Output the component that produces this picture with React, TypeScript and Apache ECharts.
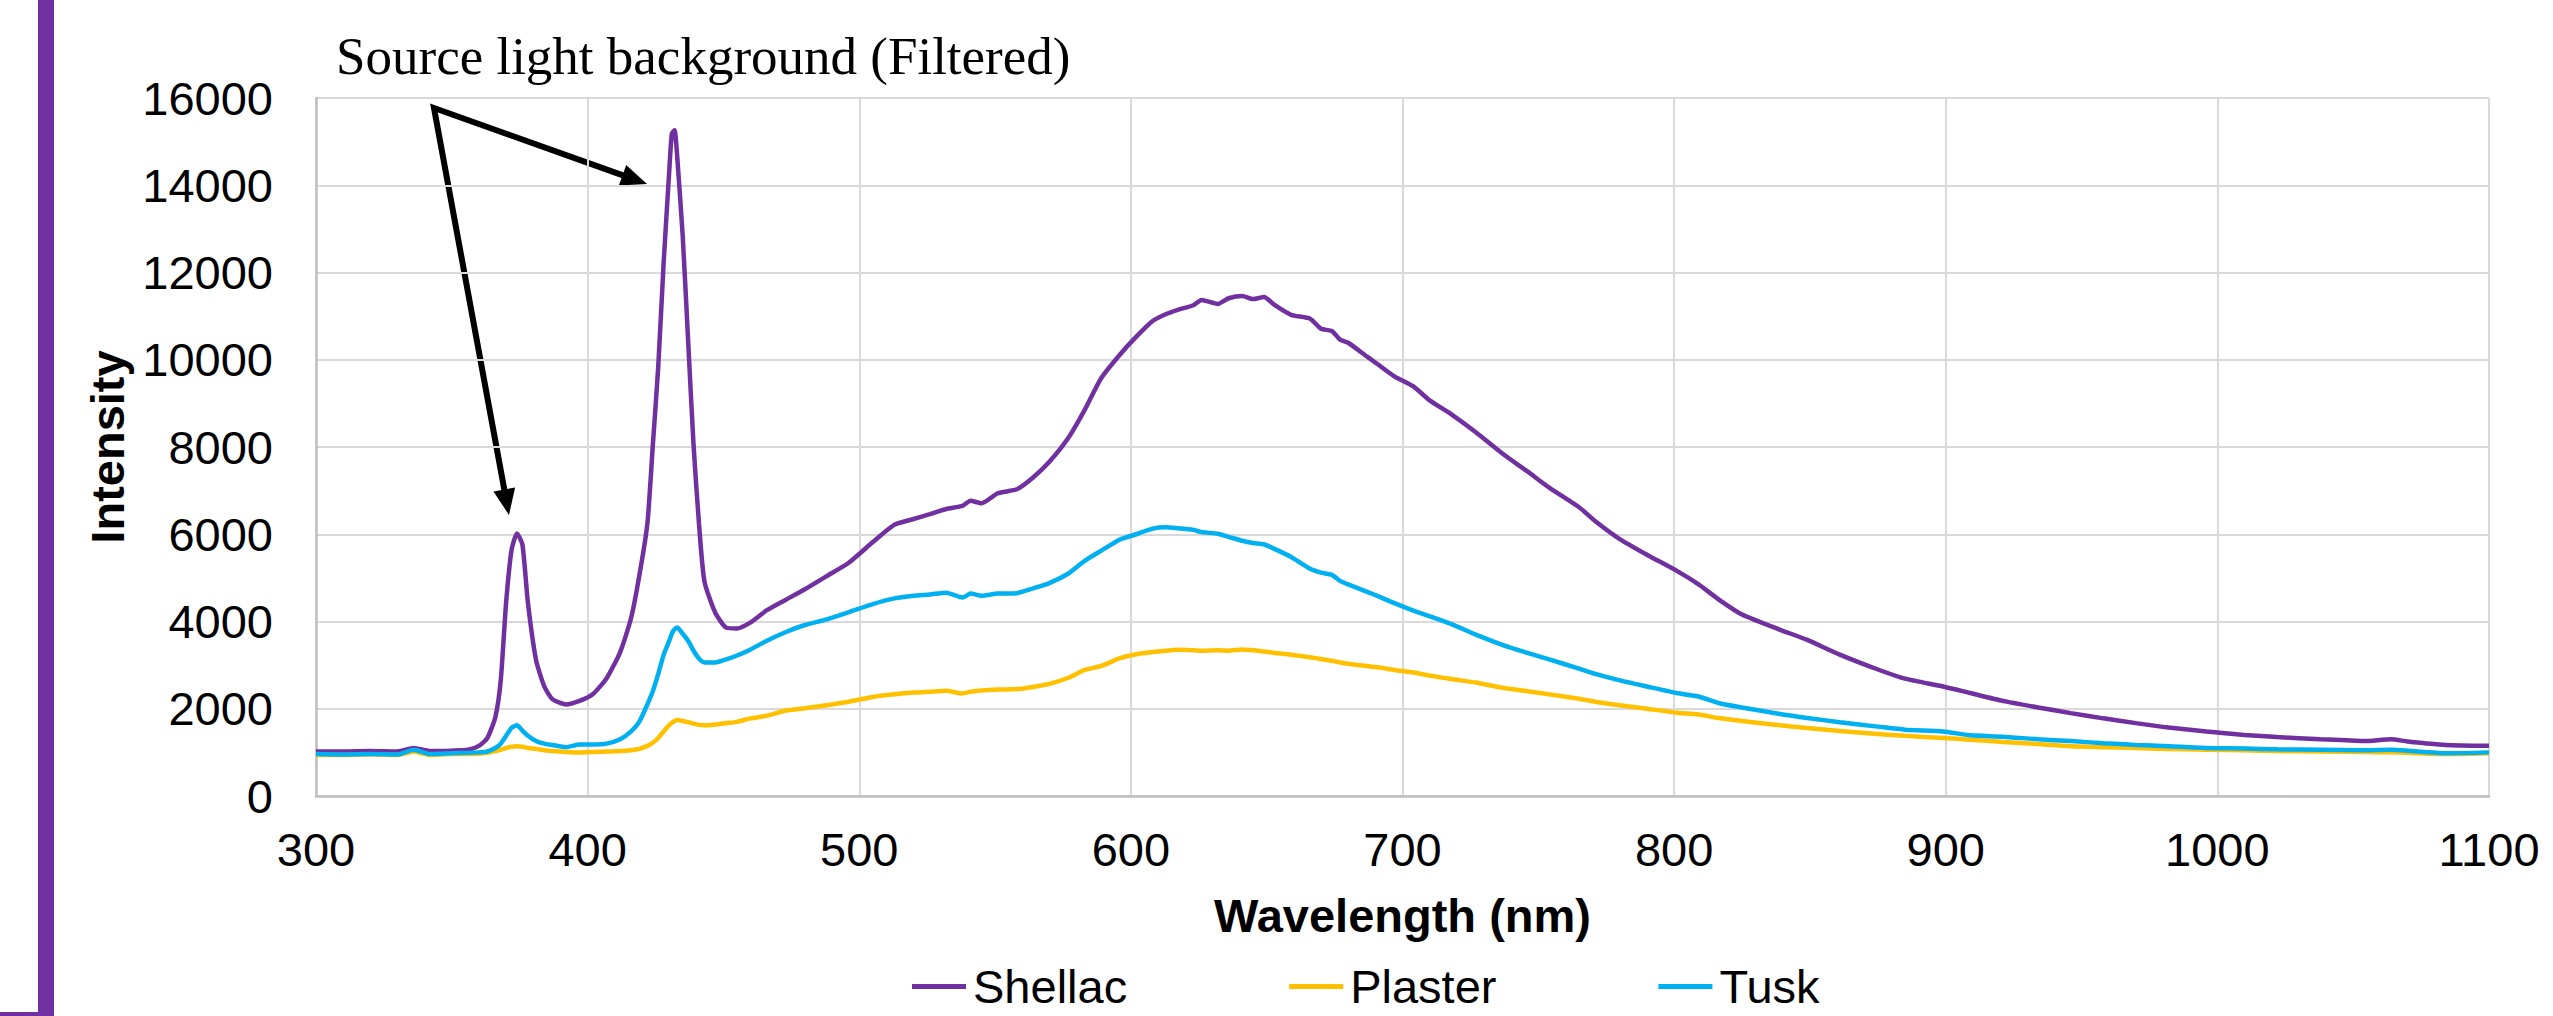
import React, { useEffect, useRef } from 'react';
import * as echarts from 'echarts';

const wavelengths = [
  300, 310, 320, 330, 336, 342, 350, 356, 360, 363,
  366, 368, 370, 372, 374, 376, 378, 381, 384, 387,
  392, 397, 402, 407, 412, 416, 419, 422, 424, 426,
  428, 430, 431, 432, 433, 435, 437, 439, 441, 443,
  447, 451, 455, 460, 466, 473, 480, 488, 496, 505,
  513, 520, 526, 532, 538, 541, 545, 551, 558, 564,
  570, 577, 583, 589, 596, 602, 608, 613, 617, 623,
  626, 632, 636, 641, 645, 649, 653, 659, 666, 670,
  674, 677, 680, 687, 691, 697, 704, 710, 718, 727,
  737, 746, 754, 765, 771, 780, 790, 801, 809, 817,
  825, 839, 849, 861, 875, 885, 899, 909, 921, 934,
  946, 958, 970, 982, 996, 1010, 1022, 1038, 1054, 1064,
  1070, 1084, 1100,
];

const shellac = [
  1020, 1020, 1030, 1020, 1100, 1030, 1040, 1060, 1150, 1320,
  1800, 2640, 4440, 5640, 6020, 5760, 4440, 3120, 2520, 2220,
  2100, 2180, 2340, 2700, 3300, 4080, 5040, 6240, 8040, 9840,
  12240, 14280, 15180, 15260, 14640, 12840, 10440, 8040, 6240, 4920,
  4200, 3860, 3840, 3980, 4260, 4500, 4740, 5040, 5340, 5820,
  6220, 6350, 6460, 6580, 6650, 6770, 6710, 6940, 7030, 7300,
  7660, 8210, 8850, 9570, 10120, 10530, 10890, 11050, 11140, 11250,
  11370, 11280, 11410, 11460, 11390, 11440, 11250, 11030, 10940, 10710,
  10660, 10460, 10390, 10070, 9890, 9620, 9390, 9070, 8750, 8340,
  7840, 7440, 7070, 6620, 6300, 5890, 5530, 5160, 4850, 4480,
  4160, 3810, 3580, 3240, 2900, 2690, 2510, 2360, 2180, 2030,
  1900, 1780, 1670, 1570, 1480, 1400, 1350, 1300, 1260, 1300,
  1250, 1170, 1150,
];

const plaster = [
  940, 940, 950, 940, 1020, 940, 960, 960, 970, 990,
  1030, 1060, 1100, 1130, 1140, 1130, 1100, 1080, 1050, 1030,
  1010, 1000, 1010, 1020, 1030, 1050, 1080, 1150, 1220, 1330,
  1480, 1620, 1680, 1720, 1740, 1720, 1690, 1660, 1630, 1620,
  1640, 1670, 1700, 1780, 1840, 1960, 2010, 2080, 2160, 2270,
  2330, 2370, 2390, 2410, 2350, 2390, 2420, 2440, 2450, 2500,
  2570, 2710, 2890, 2980, 3160, 3250, 3300, 3330, 3350, 3340,
  3330, 3340, 3330, 3360, 3340, 3310, 3280, 3240, 3180, 3140,
  3100, 3060, 3030, 2980, 2950, 2890, 2830, 2760, 2680, 2600,
  2480, 2400, 2330, 2230, 2160, 2080, 2000, 1910, 1870, 1780,
  1720, 1620, 1560, 1490, 1420, 1380, 1330, 1290, 1240, 1190,
  1140, 1120, 1100, 1080, 1060, 1050, 1030, 1020, 1010, 1000,
  990, 960, 980,
];

const tusk = [
  960, 950, 960, 950, 1060, 960, 980, 990, 1000, 1020,
  1100, 1200, 1380, 1560, 1620, 1500, 1380, 1260, 1200, 1170,
  1120, 1180, 1180, 1200, 1300, 1480, 1700, 2100, 2400, 2800,
  3240, 3550, 3720, 3820, 3860, 3720, 3560, 3330, 3150, 3060,
  3060, 3130, 3220, 3360, 3560, 3760, 3920, 4050, 4210, 4400,
  4530, 4590, 4620, 4660, 4550, 4640, 4590, 4640, 4650, 4760,
  4880, 5100, 5390, 5620, 5880, 6000, 6130, 6160, 6140, 6100,
  6050, 6010, 5940, 5850, 5800, 5770, 5660, 5480, 5210, 5120,
  5070, 4930, 4850, 4680, 4580, 4420, 4250, 4120, 3940, 3700,
  3460, 3280, 3130, 2920, 2800, 2650, 2510, 2360, 2280, 2120,
  2030, 1880, 1790, 1690, 1590, 1520, 1480, 1390, 1360, 1300,
  1260, 1210, 1170, 1140, 1100, 1090, 1070, 1060, 1050, 1060,
  1040, 980, 1000,
];

const seriesNames = ['Shellac', 'Plaster', 'Tusk'];
const seriesColors = ['#7030A0', '#FFC000', '#00B0F0'];
const seriesValues = [shellac, plaster, tusk];
const annotationText = 'Source light background (Filtered)';

const W = 2553;
const H = 1016;

function arrowPair(sx: number, sy: number, tips: number[][]) {
  const hl = 26;
  const hw = 11;
  const bases: number[][] = [];
  const heads: any[] = [];
  tips.forEach(([tx, ty]) => {
    const dx = tx - sx;
    const dy = ty - sy;
    const L = Math.hypot(dx, dy);
    const ux = dx / L;
    const uy = dy / L;
    const bx = tx - ux * hl;
    const by = ty - uy * hl;
    bases.push([bx + ux * 2, by + uy * 2]);
    heads.push({
      type: 'polygon',
      shape: { points: [[tx, ty], [bx - uy * hw, by + ux * hw], [bx + uy * hw, by - ux * hw]] },
      style: { fill: '#000' },
    });
  });
  return [
    {
      type: 'polyline',
      shape: { points: [bases[0], [sx, sy], bases[1]] },
      style: { stroke: '#000', lineWidth: 6, lineJoin: 'miter', fill: null },
    },
    ...heads,
  ];
}

export default function App() {
  const ref = useRef<HTMLDivElement>(null);
  useEffect(() => {
    document.body.style.margin = '0';
    if (!ref.current) return;
    const chart = echarts.init(ref.current, undefined, { renderer: 'svg' });
    const font = '"Liberation Sans", Arial, sans-serif';
    const plain = (v: number) => String(v);
    const option: any = {
      animation: false,
      backgroundColor: '#fff',
      grid: { left: 316, right: W - 2489, top: 98, bottom: H - 796, containLabel: false },
      xAxis: {
        type: 'value',
        min: 300,
        max: 1100,
        interval: 100,
        name: 'Wavelength (nm)',
        nameLocation: 'middle',
        nameGap: 96,
        nameTextStyle: { fontFamily: font, fontSize: 47, fontWeight: 'bold', color: '#000' },
        axisLine: { show: true, lineStyle: { color: '#BFBFBF', width: 2.5 } },
        axisTick: { show: false },
        splitLine: { show: true, lineStyle: { color: '#D9D9D9', width: 2 } },
        axisLabel: { fontFamily: font, fontSize: 47, color: '#000', margin: 30, formatter: plain },
      },
      yAxis: {
        type: 'value',
        min: 0,
        max: 16000,
        interval: 2000,
        name: 'Intensity',
        nameLocation: 'middle',
        nameRotate: 90,
        nameGap: 178,
        nameTextStyle: { fontFamily: font, fontSize: 47, fontWeight: 'bold', color: '#000' },
        axisLine: { show: true, lineStyle: { color: '#BFBFBF', width: 2.5 } },
        axisTick: { show: false },
        splitLine: { show: true, lineStyle: { color: '#D9D9D9', width: 2 } },
        axisLabel: { fontFamily: font, fontSize: 47, color: '#000', margin: 43, formatter: plain },
      },
      legend: {
        left: 912,
        top: 963,
        padding: 0,
        itemWidth: 54,
        itemHeight: 5,
        itemGap: 162,
        icon: 'rect',
        textStyle: { fontFamily: font, fontSize: 47, color: '#000', padding: [0, 0, 0, 2] },
        data: seriesNames,
      },
      series: seriesNames.map((name, i) => ({
        name,
        type: 'line',
        showSymbol: false,
        smooth: 0.2,
        color: seriesColors[i],
        lineStyle: { color: seriesColors[i], width: 4.5 },
        data: wavelengths.map((w, j) => [w, seriesValues[i][j]]),
      })),
      graphic: [
        { type: 'rect', shape: { x: 38, y: 0, width: 16, height: H }, style: { fill: '#7030A0' } },
        { type: 'rect', shape: { x: 0, y: 1012, width: 54, height: 4 }, style: { fill: '#7030A0' } },
        {
          type: 'text',
          x: 336,
          y: 56,
          style: {
            text: annotationText,
            font: '53px "Liberation Serif", "Times New Roman", serif',
            fill: '#000',
            verticalAlign: 'middle',
            align: 'left',
          },
        },
        ...arrowPair(434, 108, [[647, 184], [509, 515]]),
      ],
    };
    chart.setOption(option);
    return () => chart.dispose();
  }, []);
  return <div ref={ref} style={{ position: 'absolute', left: 0, top: 0, width: W, height: H }} />;
}
